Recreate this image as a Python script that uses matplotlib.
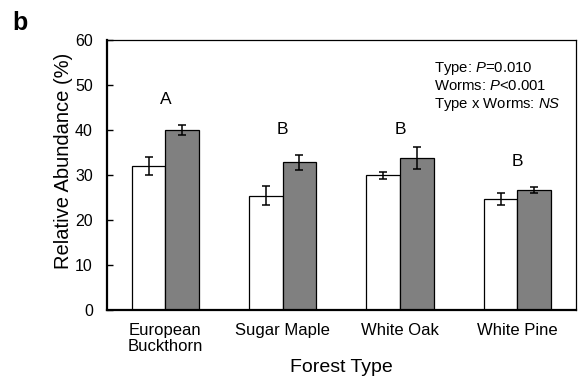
import numpy as np
import matplotlib
matplotlib.use('Agg')
from matplotlib import pyplot as plt

plt.rcParams['font.family'] = ['Liberation Sans', 'DejaVu Sans']
plt.rcParams['mathtext.fontset'] = 'custom'
plt.rcParams['mathtext.rm'] = 'Liberation Sans'
plt.rcParams['mathtext.it'] = 'Liberation Sans:italic'

# data
forests = ['European\nBuckthorn', 'Sugar Maple', 'White Oak', 'White Pine']
no_worms = [31.9, 25.4, 29.9, 24.7]
no_worms_err = [2.0, 2.1, 0.7, 1.4]
worms = [40.0, 32.8, 33.8, 26.7]
worms_err = [1.2, 1.6, 2.5, 0.65]
letters = ['A', 'B', 'B', 'B']
letter_y = [46.7, 40.2, 40.1, 33.1]

fig = plt.figure(figsize=(5.79, 3.84), dpi=100)
ax = fig.add_axes([0.1843, 0.1927, 0.9948 - 0.1843, 0.8958 - 0.1927])

x = np.arange(len(forests))
w = 0.286
ekw = dict(ecolor='black', elinewidth=1.1, capsize=3, capthick=1.1)
ax.bar(x - w/2, no_worms, w, color='white', edgecolor='black', linewidth=0.9,
       yerr=no_worms_err, error_kw=ekw, zorder=2)
ax.bar(x + w/2, worms, w, color='#808080', edgecolor='black', linewidth=0.9,
       yerr=worms_err, error_kw=ekw, zorder=2)

for xi, lab, ly in zip(x, letters, letter_y):
    ax.text(xi, ly, lab, ha='center', va='center', fontsize=12.5)

ax.set_xlim(-0.5, 3.5)
ax.set_ylim(0, 60)
ax.set_yticks([0, 10, 20, 30, 40, 50, 60])
ax.set_xticks(x)
ax.set_xticklabels(forests, fontsize=12, linespacing=1.1)
ax.tick_params(axis='x', length=0, pad=9)
ax.tick_params(axis='y', direction='in', length=4, width=1, labelsize=11.5, pad=10)

for s in ['left', 'bottom']:
    ax.spines[s].set_linewidth(1.6)
for s in ['top', 'right']:
    ax.spines[s].set_linewidth(0.9)

ax.set_ylabel('Relative Abundance (%)', fontsize=14.5)
ax.yaxis.set_label_coords(-0.072, 0.552)
ax.set_xlabel('Forest Type', fontsize=14, labelpad=4)

ax.text(0.697, 0.925, 'Type: $P$=0.010\nWorms: $P$<0.001\nType x Worms: $NS$',
        transform=ax.transAxes, ha='left', va='top', fontsize=10.7, linespacing=1.2)

fig.text(12/579, 1 - 11/384, 'b', fontsize=18, fontweight='bold', ha='left', va='top')

fig.savefig('out.png', dpi=100)
